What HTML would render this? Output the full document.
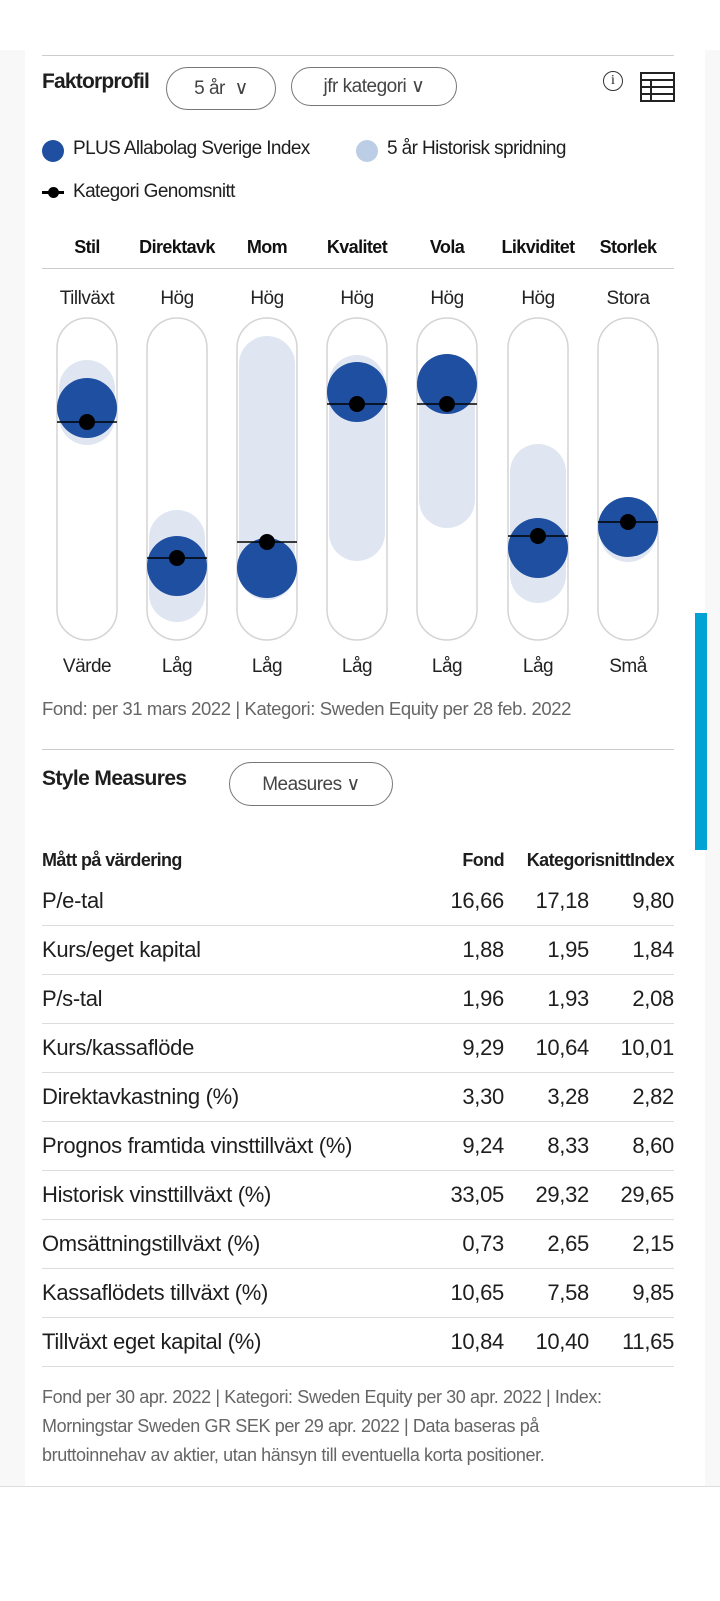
<!DOCTYPE html>
<html><head><meta charset="utf-8"><style>
body{margin:0;width:720px;height:1600px;background:#fff;position:relative;font-family:"Liberation Sans Narrow","Liberation Sans",sans-serif;color:#1e1e1e;overflow:hidden}
.side{position:absolute;top:0;height:1600px;background:#f8f8f8;width:25px}
.a{position:absolute;white-space:nowrap}
.pill{position:absolute;border:1.5px solid #777;border-radius:22px;height:39px;box-sizing:border-box;font-size:19px;letter-spacing:-0.5px;color:#444;display:flex;align-items:center;justify-content:center}
.hl{position:absolute;height:1px;background:#ccc;left:42px;width:632px}
.row{position:absolute;left:42px;width:632px;height:48px;border-bottom:1px solid #ddd;font-size:22px;letter-spacing:-0.3px;line-height:48px}
.row span{position:absolute;right:0}
</style></head><body>
<div class="side" style="left:0"></div><div class="side" style="left:705px;width:15px"></div>
<div style="position:absolute;left:0;top:0;width:720px;height:50px;background:#fff"></div>
<div style="position:absolute;left:0;top:1486px;width:720px;height:114px;background:#fff;border-top:1px solid #ddd"></div>
<div style="position:absolute;left:695px;top:613px;width:12px;height:237px;background:#00a3d4"></div>
<div class="hl" style="top:55px"></div>
<div class="a" style="left:42px;top:70px;font-size:21px;letter-spacing:-0.8px;font-weight:bold">Faktorprofil</div>
<div class="pill" style="left:166px;top:67px;width:110px;height:43px">5 år &nbsp;∨</div>
<div class="pill" style="left:291px;top:67px;width:166px">jfr kategori ∨</div>
<div class="a" style="left:603px;top:71px;width:18px;height:18px;border:1.5px solid #333;border-radius:50%;font-size:14px;text-align:center;line-height:18px;font-family:'Liberation Serif',serif">i</div>
<svg class="a" style="left:640px;top:72px" width="35" height="30"><g stroke="#222" stroke-width="2" fill="none"><rect x="1" y="1" width="33" height="28"/><line x1="1" y1="8" x2="34" y2="8"/><line x1="1" y1="15" x2="34" y2="15"/><line x1="1" y1="22" x2="34" y2="22"/><line x1="11" y1="8" x2="11" y2="29"/></g></svg>
<div class="a" style="left:42px;top:140px;width:22px;height:22px;border-radius:50%;background:#1f4fa0"></div>
<div class="a" style="left:73px;top:138px;font-size:19px;letter-spacing:-0.6px">PLUS Allabolag Sverige Index</div>
<div class="a" style="left:356px;top:140px;width:22px;height:22px;border-radius:50%;background:#bccde6"></div>
<div class="a" style="left:387px;top:138px;font-size:19px;letter-spacing:-0.6px">5 år Historisk spridning</div>
<div class="a" style="left:42px;top:191px;width:22px;height:3px;background:#000"></div>
<div class="a" style="left:48px;top:187px;width:11px;height:11px;border-radius:50%;background:#000"></div>
<div class="a" style="left:73px;top:181px;font-size:19px;letter-spacing:-0.6px">Kategori Genomsnitt</div>
<div class="hl" style="top:268px"></div>
<svg class="a" style="left:0;top:220px" width="720" height="470" font-family="Liberation Sans Narrow, Liberation Sans, sans-serif">
<g font-size="18" letter-spacing="-0.6" text-anchor="middle" font-weight="bold" fill="#111">
<text x="87" y="33">Stil</text><text x="177" y="33">Direktavk</text><text x="267" y="33">Mom</text><text x="357" y="33">Kvalitet</text><text x="447" y="33">Vola</text><text x="538" y="33">Likviditet</text><text x="628" y="33">Storlek</text></g>
<g font-size="19" letter-spacing="-0.5" text-anchor="middle" fill="#222">
<text x="87" y="84">Tillväxt</text><text x="177" y="84">Hög</text><text x="267" y="84">Hög</text><text x="357" y="84">Hög</text><text x="447" y="84">Hög</text><text x="538" y="84">Hög</text><text x="628" y="84">Stora</text>
<text x="87" y="452">Värde</text><text x="177" y="452">Låg</text><text x="267" y="452">Låg</text><text x="357" y="452">Låg</text><text x="447" y="452">Låg</text><text x="538" y="452">Låg</text><text x="628" y="452">Små</text></g>
<g transform="translate(0,-220)">
<g fill="none" stroke="#d4d4d4" stroke-width="1.5">
<rect x="57" y="318" width="60" height="322" rx="30"/><rect x="147" y="318" width="60" height="322" rx="30"/><rect x="237" y="318" width="60" height="322" rx="30"/><rect x="327" y="318" width="60" height="322" rx="30"/><rect x="417" y="318" width="60" height="322" rx="30"/><rect x="508" y="318" width="60" height="322" rx="30"/><rect x="598" y="318" width="60" height="322" rx="30"/></g>
<g fill="#dfe6f1">
<rect x="59" y="360" width="56" height="85" rx="28"/><rect x="149" y="510" width="56" height="112" rx="28"/><rect x="239" y="336" width="56" height="264" rx="28"/><rect x="329" y="355" width="56" height="206" rx="28"/><rect x="419" y="355" width="56" height="173" rx="28"/><rect x="510" y="444" width="56" height="159" rx="28"/><rect x="600" y="497" width="56" height="65" rx="28"/></g>
<g fill="#1f4fa0">
<circle cx="87" cy="408" r="30"/><circle cx="177" cy="566" r="30"/><circle cx="267" cy="568" r="30"/><circle cx="357" cy="392" r="30"/><circle cx="447" cy="384" r="30"/><circle cx="538" cy="548" r="30"/><circle cx="628" cy="527" r="30"/></g>
<g stroke="#000" stroke-width="1.5">
<line x1="57" x2="117" y1="422" y2="422"/><line x1="147" x2="207" y1="558" y2="558"/><line x1="237" x2="297" y1="542" y2="542"/><line x1="327" x2="387" y1="404" y2="404"/><line x1="417" x2="477" y1="404" y2="404"/><line x1="508" x2="568" y1="536" y2="536"/><line x1="598" x2="658" y1="522" y2="522"/></g>
<g fill="#000"><circle cx="87" cy="422" r="8"/><circle cx="177" cy="558" r="8"/><circle cx="267" cy="542" r="8"/><circle cx="357" cy="404" r="8"/><circle cx="447" cy="404" r="8"/><circle cx="538" cy="536" r="8"/><circle cx="628" cy="522" r="8"/></g>
</g></svg>
<div class="a" style="left:42px;top:698px;font-size:18.5px;letter-spacing:-0.4px;color:#666">Fond: per 31 mars 2022 | Kategori: Sweden Equity per 28 feb. 2022</div>
<div class="hl" style="top:749px"></div>
<div class="a" style="left:42px;top:767px;font-size:21px;letter-spacing:-0.6px;font-weight:bold">Style Measures</div>
<div class="pill" style="left:229px;top:762px;width:164px;height:44px">Measures ∨</div>
<div class="row" style="top:836px;height:48px;font-weight:bold;font-size:18px;letter-spacing:-0.6px;border:none">Mått på värdering<span style="right:170px">Fond</span><span style="right:44px">Kategorisnitt</span><span>Index</span></div>
<div class="row" style="top:877px">P/e-tal<span style="right:170px">16,66</span><span style="right:85px">17,18</span><span>9,80</span></div>
<div class="row" style="top:926px">Kurs/eget kapital<span style="right:170px">1,88</span><span style="right:85px">1,95</span><span>1,84</span></div>
<div class="row" style="top:975px">P/s-tal<span style="right:170px">1,96</span><span style="right:85px">1,93</span><span>2,08</span></div>
<div class="row" style="top:1024px">Kurs/kassaflöde<span style="right:170px">9,29</span><span style="right:85px">10,64</span><span>10,01</span></div>
<div class="row" style="top:1073px">Direktavkastning (%)<span style="right:170px">3,30</span><span style="right:85px">3,28</span><span>2,82</span></div>
<div class="row" style="top:1122px">Prognos framtida vinsttillväxt (%)<span style="right:170px">9,24</span><span style="right:85px">8,33</span><span>8,60</span></div>
<div class="row" style="top:1171px">Historisk vinsttillväxt (%)<span style="right:170px">33,05</span><span style="right:85px">29,32</span><span>29,65</span></div>
<div class="row" style="top:1220px">Omsättningstillväxt (%)<span style="right:170px">0,73</span><span style="right:85px">2,65</span><span>2,15</span></div>
<div class="row" style="top:1269px">Kassaflödets tillväxt (%)<span style="right:170px">10,65</span><span style="right:85px">7,58</span><span>9,85</span></div>
<div class="row" style="top:1318px">Tillväxt eget kapital (%)<span style="right:170px">10,84</span><span style="right:85px">10,40</span><span>11,65</span></div>
<div class="a" style="left:42px;top:1383px;font-size:18px;letter-spacing:-0.4px;color:#666;line-height:29px;white-space:normal;width:605px">Fond per 30 apr. 2022 | Kategori: Sweden Equity per 30 apr. 2022 | Index: Morningstar Sweden GR SEK per 29 apr. 2022 | Data baseras på bruttoinnehav av aktier, utan hänsyn till eventuella korta positioner.</div>
</body></html>
